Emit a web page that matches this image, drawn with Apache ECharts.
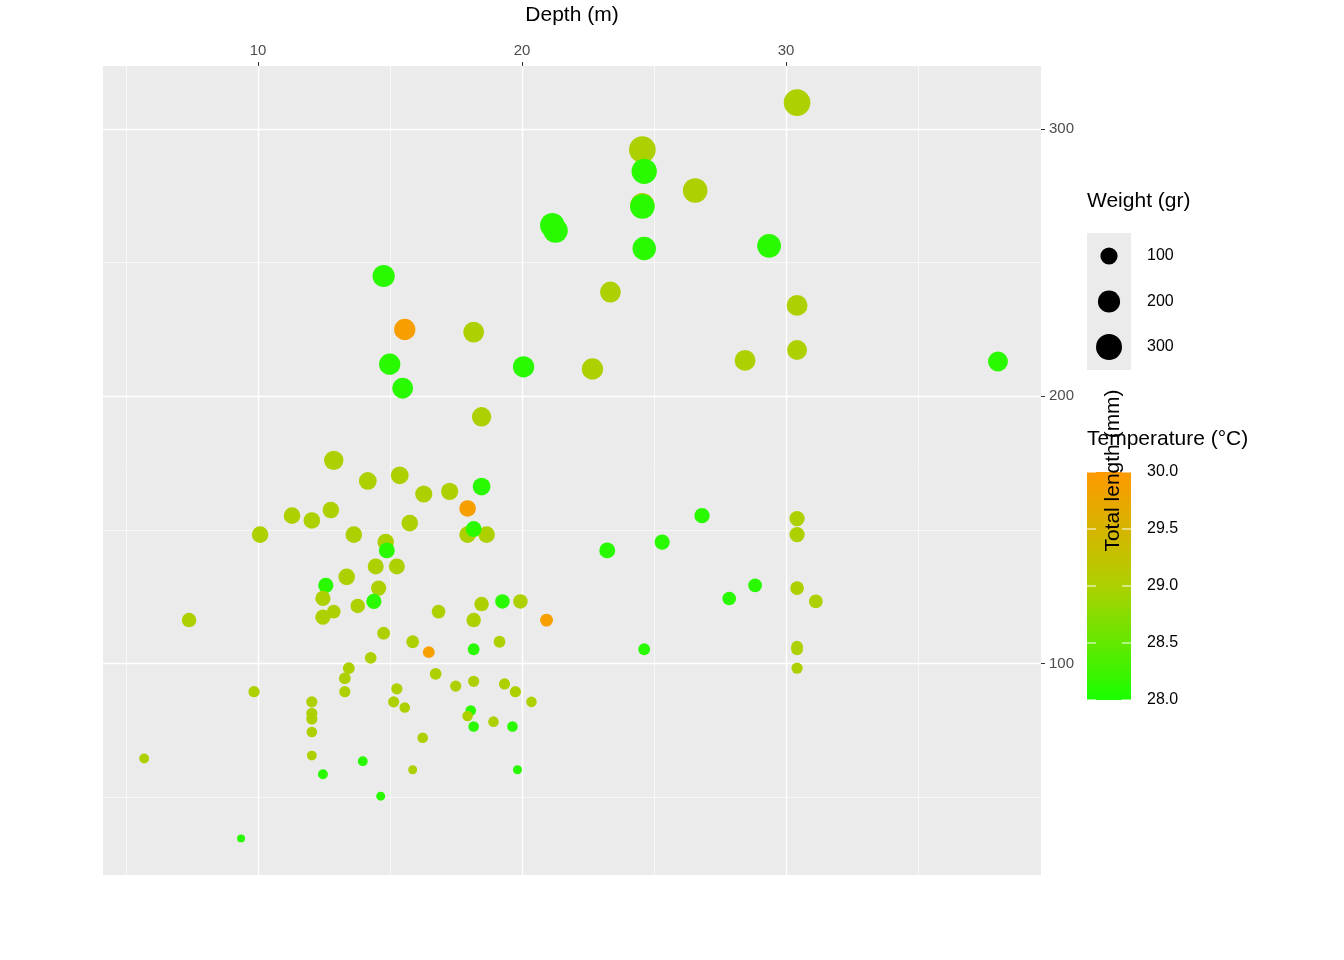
<!DOCTYPE html>
<html>
<head>
<meta charset="utf-8">
<script src="https://cdn.jsdelivr.net/npm/echarts@6/dist/echarts.min.js"></script>
<style>html,body{margin:0;background:#fff}#chart{width:1344px;height:960px}</style>
</head>
<body>
<div id="chart"></div>
<script>
// depth (m), total length (mm), weight (gr), temperature (°C)
var depth = [30.42,24.56,24.63,24.56,24.56,26.56,21.15,21.27,24.63,29.36,14.76,23.35,30.42,15.56,18.17,14.99,20.06,22.67,28.45,30.42,38.03,15.48,18.47,12.87,15.37,14.16,18.47,16.28,17.26,17.94,11.29,12.04,12.76,15.75,10.08,13.63,17.94,18.66,18.17,14.84,14.88,23.23,25.31,26.82,30.42,30.42,14.46,15.26,13.36,12.57,14.57,12.46,14.39,13.78,12.87,12.46,7.39,16.84,18.17,18.47,19.26,19.94,20.93,14.76,15.86,19.15,18.17,16.47,14.27,24.63,30.42,30.42,30.42,27.85,28.83,30.42,31.13,13.44,13.29,16.73,9.85,13.29,15.26,17.49,18.17,19.34,19.75,20.36,12.04,15.14,15.56,18.06,12.04,12.04,17.94,18.92,18.17,19.64,12.04,16.24,5.69,12.04,13.97,12.46,15.86,19.83,14.65,9.36];
var length = [309.9,292.3,284.2,271.5,271,277,264,262,255.3,256.3,245,239,234,225,224,212,211,210.2,213.4,217.3,213,203,192.3,176,170.4,168.3,166.2,163.4,164.4,158,155.3,153.5,157.4,152.5,148.2,148.2,148.2,148.2,150.3,145.4,142.3,142.3,145.4,155.3,154.2,148.2,136.3,136.3,132.4,129.2,128.2,124.3,123.2,121.5,119.4,117.3,116.2,119.4,116.2,122.2,123.2,123.2,116.2,111.3,108.1,108.1,105.3,104.2,102.1,105.3,106.3,105.3,98.2,124.3,129.2,128.2,123.2,98.2,94.4,96.1,89.4,89.4,90.5,91.5,93.3,92.3,89.4,85.6,85.6,85.6,83.5,82.4,81.3,79.2,80.3,78.2,76.4,76.4,74.3,72.2,64.4,65.5,63.4,58.5,60.2,60.2,50.3,34.5];
var weight = [320,320,280,250,260,260,260,260,230,240,200,170,170,180,170,180,180,180,170,150,150,170,140,140,110,110,110,100,100,90,90,90,90,90,90,90,90,90,80,90,80,80,70,70,70,70,80,80,90,70,70,70,70,60,50,70,60,50,60,60,60,60,40,40,40,30,30,30,30,30,30,30,25,50,50,50,50,30,30,30,25,25,25,25,25,25,25,20,25,25,20,20,25,25,20,20,20,20,20,20,15,15,15,15,10,10,10,5];
var temp = [29.0,29.0,28.1,29.0,28.1,29.0,28.1,28.1,28.1,28.1,28.1,29.0,29.0,29.9,29.0,28.1,28.1,29.0,29.0,29.0,28.1,28.1,29.0,29.0,29.0,29.0,28.1,29.0,29.0,29.9,29.0,29.0,29.0,29.0,29.0,29.0,29.0,29.0,28.1,29.0,28.1,28.1,28.1,28.1,29.0,29.0,29.0,29.0,29.0,28.1,29.0,29.0,28.1,29.0,29.0,29.0,29.0,29.0,29.0,29.0,28.1,29.0,29.9,29.0,29.0,29.0,28.1,29.9,29.0,28.1,29.0,29.0,29.0,28.1,28.1,29.0,29.0,29.0,29.0,29.0,29.0,29.0,29.0,29.0,29.0,29.0,29.0,29.0,29.0,29.0,29.0,28.1,29.0,29.0,29.0,29.0,28.1,28.1,29.0,29.0,29.0,29.0,28.1,28.1,29.0,28.1,28.1,28.1];
var xMajor = [10, 20, 30];
var xMinor = [5, 15, 25, 35];
var yMajor = [100, 200, 300];
var yMinor = [50, 150, 250];
var sizeBreaks = [100, 200, 300];
var tempBreaks = [28.0, 28.5, 29.0, 29.5, 30.0];
var tempColors = ['#1AFF00', '#ADD000', '#FF9900'];

function sizeOf(w) { return 5.2 + 1.2 * Math.sqrt(w); }

var points = depth.map(function (d, i) { return [d, length[i], weight[i], temp[i]]; });

var myChart = echarts.init(document.getElementById('chart'));

var font = 'Liberation Sans';
var graphics = [
    { type: 'text', left: 1087, top: 191, style: { text: 'Weight (gr)', fontSize: 21, fontFamily: font, fill: '#000' } },
    { type: 'rect', shape: { x: 1087, y: 233, width: 44, height: 137 }, style: { fill: '#EBEBEB' } },
    { type: 'text', left: 1087, top: 429, style: { text: 'Temperature (°C)', fontSize: 21, fontFamily: font, fill: '#000' } },
    { type: 'rect', shape: { x: 1087, y: 472, width: 44, height: 228 },
      style: { fill: new echarts.graphic.LinearGradient(0, 1, 0, 0, [
          { offset: 0, color: tempColors[0] }, { offset: 0.5, color: tempColors[1] }, { offset: 1, color: tempColors[2] }]) } }
];
sizeBreaks.forEach(function (w, i) {
    var cy = 256 + i * 45.5;
    graphics.push({ type: 'circle', shape: { cx: 1109, cy: cy, r: sizeOf(w) / 2 }, style: { fill: '#000' } });
    graphics.push({ type: 'text', x: 1147, y: cy, style: { text: String(w), fontSize: 16, fontFamily: font, fill: '#000', verticalAlign: 'middle' } });
});
tempBreaks.forEach(function (v) {
    var cy = 700 - (v - 28) / 2 * 228;
    graphics.push({ type: 'text', x: 1147, y: cy, style: { text: v.toFixed(1), fontSize: 16, fontFamily: font, fill: '#000', verticalAlign: 'middle' } });
    graphics.push({ type: 'line', shape: { x1: 1087, y1: cy, x2: 1096, y2: cy }, style: { stroke: '#fff', lineWidth: 1 } });
    graphics.push({ type: 'line', shape: { x1: 1122, y1: cy, x2: 1131, y2: cy }, style: { stroke: '#fff', lineWidth: 1 } });
});

function makeAxis(dim, ticks, major) {
    var isX = dim === 'x';
    var ax = {
        type: 'value',
        min: isX ? 4.13 : 20.8,
        max: isX ? 39.66 : 323.6,
        axisLine: { show: false },
        axisTick: { show: major, length: 4, customValues: ticks, lineStyle: { color: '#333' } },
        axisLabel: { show: major, customValues: ticks, margin: 8, color: '#4D4D4D', fontSize: 15, fontFamily: font },
        splitLine: { show: true, lineStyle: { color: '#fff', width: major ? 1.4 : 0.6 } }
    };
    if (major) {
        ax.name = isX ? 'Depth (m)' : 'Total length (mm)';
        ax.nameLocation = 'middle';
        ax.nameGap = isX ? 40 : 62;
        ax.nameTextStyle = { fontSize: 21, color: '#000', fontFamily: font };
    }
    return ax;
}

var option = {
    animation: false,
    grid: { left: 103, right: 303, top: 15, bottom: 85, show: true, backgroundColor: '#EBEBEB', borderWidth: 0 },
    xAxis: [makeAxis('x', xMinor, false), makeAxis('x', xMajor, true)],
    yAxis: [makeAxis('y', yMinor, false), makeAxis('y', yMajor, true)],
    visualMap: {
        show: false, type: 'continuous', dimension: 3, min: 28, max: 30,
        inRange: { color: tempColors }
    },
    series: [{
        type: 'scatter',
        xAxisIndex: 1, yAxisIndex: 1,
        data: points,
        symbolSize: function (v) { return sizeOf(v[2]); },
        itemStyle: { opacity: 1 }
    }],
    graphic: graphics
};

myChart.setOption(option);
</script>
</body>
</html>
